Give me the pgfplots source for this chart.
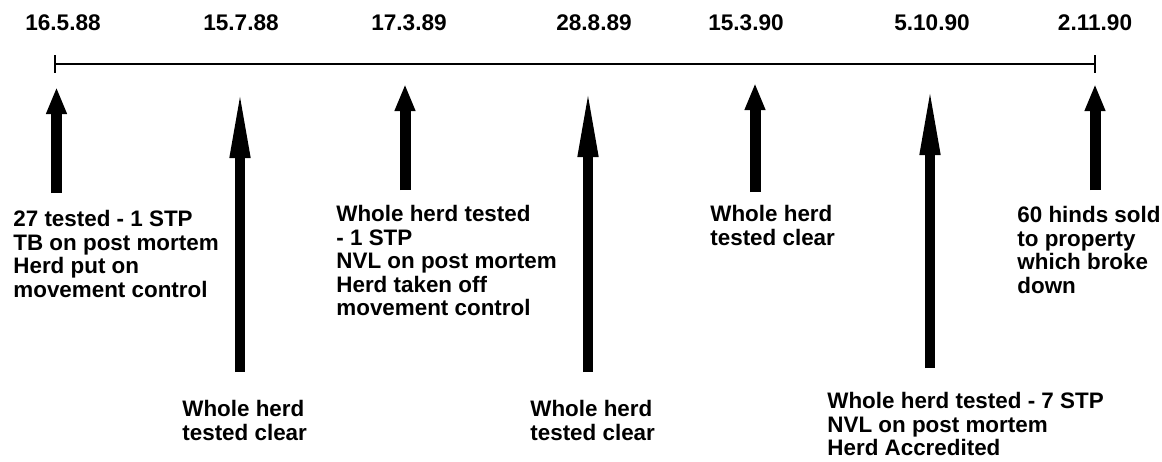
\documentclass[border=0pt]{standalone}
\usepackage{pgfplots}
\pgfplotsset{compat=1.18}
\usepackage{fontspec}
\setmainfont{Liberation Sans}
\usetikzlibrary{arrows.meta}

% 1 unit = 1 px of the 1162x461 reference, y downwards
\tikzset{
  note/.style={font=\fontsize{11.2}{11.75}\selectfont\bfseries, anchor=north west, align=left, inner sep=0pt},
  date/.style={font=\fontsize{11.3}{12}\selectfont\bfseries, anchor=center, inner sep=0pt},
  short arrow/.style={line width=5.5pt, -{Triangle[width=9.5pt,length=13.5pt]}},
  long arrow/.style={line width=5pt, -{Triangle[width=9pt,length=36.5pt]}},
}

\begin{document}
\begin{tikzpicture}
\begin{axis}[
    width=581pt, height=230.5pt, scale only axis,
    xmin=0, xmax=1162, ymin=0, ymax=461, y dir=reverse,
    hide axis, clip=false,
    every axis plot/.append style={black},
]
% time line with end ticks
\addplot[line width=1pt] coordinates {(55,64) (1095,64)};
\addplot[line width=0.6pt] coordinates {(55,55) (55,73)};
\addplot[line width=0.6pt] coordinates {(1095,55) (1095,73)};

% arrows (bottom -> tip)
\addplot[short arrow] coordinates {(56.5,193) (56.5,87)};
\addplot[long arrow]  coordinates {(240,372) (240,85)};
\addplot[short arrow] coordinates {(405,190) (405,84)};
\addplot[long arrow]  coordinates {(588,372) (588,84)};
\addplot[short arrow] coordinates {(755,192) (755,83)};
\addplot[long arrow]  coordinates {(930,368) (930,82)};
\addplot[short arrow] coordinates {(1095,190) (1095,84)};

% dates
\node[date] at (axis cs:63,22.5)   {16.5.88};
\node[date] at (axis cs:241,22.5)  {15.7.88};
\node[date] at (axis cs:409,22.5)  {17.3.89};
\node[date] at (axis cs:594,22.5)  {28.8.89};
\node[date] at (axis cs:746,22.5)  {15.3.90};
\node[date] at (axis cs:932,22.5)  {5.10.90};
\node[date] at (axis cs:1095,22.5) {2.11.90};

% notes
\node[note] at (axis cs:13,210)  {27 tested - 1 STP\\TB on post mortem\\Herd put on\\movement control};
\node[note] at (axis cs:182,400) {Whole herd\\tested clear};
\node[note] at (axis cs:336,205) {Whole herd tested\\- 1 STP\\NVL on post mortem\\Herd taken off\\movement control};
\node[note] at (axis cs:530,400) {Whole herd\\tested clear};
\node[note] at (axis cs:710,205) {Whole herd\\tested clear};
\node[note] at (axis cs:827,392) {Whole herd tested - 7 STP\\NVL on post mortem\\Herd Accredited};
\node[note] at (axis cs:1017,206) {60 hinds sold\\to property\\which broke\\down};

\coordinate (bl) at (axis cs:0,461);
\coordinate (tr) at (axis cs:1162,0);
\end{axis}
\pgfresetboundingbox
\path (bl) rectangle (tr);
\end{tikzpicture}
\end{document}
